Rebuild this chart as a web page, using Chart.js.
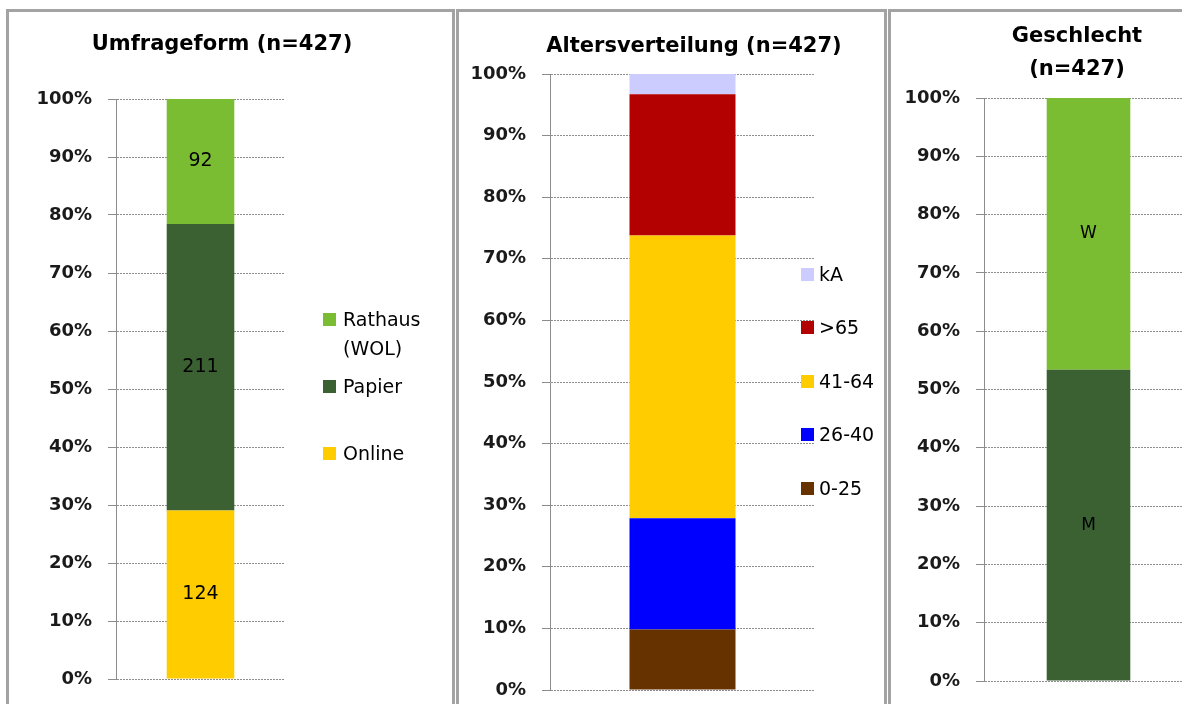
<!DOCTYPE html>
<html>
<head>
<meta charset="utf-8">
<script src="https://cdn.jsdelivr.net/npm/chart.js@4.4.1/dist/chart.umd.min.js"></script>
<style>
body { margin:0; width:1182px; height:704px; overflow:hidden; background:#fff; position:relative; font-family:"DejaVu Sans", sans-serif; }
.panel { position:absolute; top:9px; height:760px; border:3px solid #a3a3a3; box-sizing:border-box; overflow:hidden; background:#fff; }
.panel canvas { position:absolute; left:0; top:0; }
.title { position:absolute; width:400px; font-weight:bold; font-size:21px; line-height:33px; text-align:center; color:#000; white-space:pre; }
.item { position:absolute; font-size:19px; color:#000; }
.item .box { position:absolute; left:0; width:13px; height:13px; }
.item .txt { position:absolute; top:0; width:95px; }
</style>
</head>
<body>

<div class="panel" style="left:6px; width:449px;"><canvas id="umfrage" width="443" height="740"></canvas></div>
<div class="panel" style="left:456px; width:431px;"><canvas id="alter" width="425" height="740"></canvas></div>
<div class="panel" style="left:888px; width:320px;"><canvas id="geschlecht" width="314" height="740"></canvas></div>

<div class="title" style="left:22px; top:27px;">Umfrageform (n=427)</div>
<div class="title" style="left:494px; top:29px;">Altersverteilung (n=427)</div>
<div class="title" style="left:877px; top:19px;">Geschlecht
(n=427)</div>

<div id="legUmfrage"></div>
<div id="legAlter"></div>

<script>
// Umfrageform
const umfrageNames = ['Online', 'Papier', 'Rathaus (WOL)'];
const umfrageCounts = [124, 211, 92];
const umfrageColors = ['#ffcc00', '#3b6133', '#7abc32'];

// Altersverteilung
const alterNames = ['0-25', '26-40', '41-64', '>65', 'kA'];
const alterCounts = [42, 77, 196, 98, 14];
const alterColors = ['#663300', '#0000ff', '#ffcc00', '#b30000', '#ccccff'];

// Geschlecht
const geschlechtNames = ['M', 'W'];
const geschlechtCounts = [228, 199];
const geschlechtColors = ['#3b6133', '#7abc32'];

const gray = '#8c8c8c';

// text in the middle of each bar segment
const barTextPlugin = {
    id: 'barText',
    afterDatasetsDraw(chart, args, opts) {
        const ctx = chart.ctx;
        ctx.save();
        ctx.font = opts.font;
        ctx.fillStyle = '#000';
        ctx.textAlign = 'center';
        ctx.textBaseline = 'middle';
        chart.data.datasets.forEach((ds, i) => {
            if (ds.inside == null) return;
            chart.getDatasetMeta(i).data.forEach(bar => {
                ctx.fillText(ds.inside, bar.x, (bar.y + bar.base) / 2);
            });
        });
        ctx.restore();
    }
};

function makeChart(id, names, counts, colors, inside, lay) {
    const total = counts.reduce((a, b) => a + b, 0);
    const datasets = names.map((name, i) => ({
        label: name,
        data: [counts[i] / total * 100],
        backgroundColor: colors[i],
        borderWidth: 0,
        barPercentage: 0.4,
        categoryPercentage: 1,
        inside: inside ? inside[i] : null
    }));
    return new Chart(document.getElementById(id), {
        type: 'bar',
        data: { labels: [''], datasets: datasets },
        options: {
            responsive: false,
            animation: false,
            layout: { padding: lay.padding },
            plugins: {
                legend: { display: false },
                tooltip: { enabled: false },
                barText: { font: lay.textFont }
            },
            scales: {
                x: { stacked: true, display: false },
                y: {
                    stacked: true,
                    min: 0,
                    max: 100,
                    afterFit: s => { s.width = lay.axisWidth; },
                    ticks: {
                        stepSize: 10,
                        padding: 16,
                        color: '#1a1a1a',
                        font: { family: 'DejaVu Sans', size: 18, weight: 'bold' },
                        callback: v => v + '%'
                    },
                    grid: { color: gray, lineWidth: 1, tickLength: 8, tickColor: gray, tickBorderDash: [] },
                    border: { display: true, color: gray, width: 1, dash: [2, 1] }
                }
            }
        },
        plugins: [barTextPlugin]
    });
}

// canvas is taller than the window so the 0% line can sit near the bottom edge
makeChart('umfrage', umfrageNames, umfrageCounts, umfrageColors, umfrageCounts.map(String), {
    padding: { left: 7, right: 167, top: 87, bottom: 73 }, axisWidth: 100, textFont: '19px "DejaVu Sans"'
});
makeChart('alter', alterNames, alterCounts, alterColors, null, {
    padding: { left: 6, right: 69, top: 62, bottom: 62 }, axisWidth: 85, textFont: '19px "DejaVu Sans"'
});
makeChart('geschlecht', geschlechtNames, geschlechtCounts, geschlechtColors, geschlechtNames, {
    padding: { left: 8, right: 12, top: 86, bottom: 71 }, axisWidth: 85, textFont: '17px "DejaVu Sans"'
});

// legends, top entry = top segment
function makeLegend(holderId, names, colors, boxX, textX, firstY, step, lh) {
    const holder = document.getElementById(holderId);
    for (let k = 0; k < names.length; k++) {
        const i = names.length - 1 - k;
        const item = document.createElement('div');
        item.className = 'item';
        item.style.left = boxX + 'px';
        item.style.top = (firstY + k * step - lh / 2) + 'px';
        item.style.lineHeight = lh + 'px';
        const box = document.createElement('span');
        box.className = 'box';
        box.style.top = ((lh - 13) / 2) + 'px';
        box.style.background = colors[i];
        const txt = document.createElement('span');
        txt.className = 'txt';
        txt.style.left = (textX - boxX) + 'px';
        txt.textContent = names[i];
        item.appendChild(box);
        item.appendChild(txt);
        holder.appendChild(item);
    }
}

makeLegend('legUmfrage', umfrageNames, umfrageColors, 323, 343, 319, 67, 29);
makeLegend('legAlter', alterNames, alterColors, 801, 819, 274, 53.5, 29);
</script>
</body>
</html>
